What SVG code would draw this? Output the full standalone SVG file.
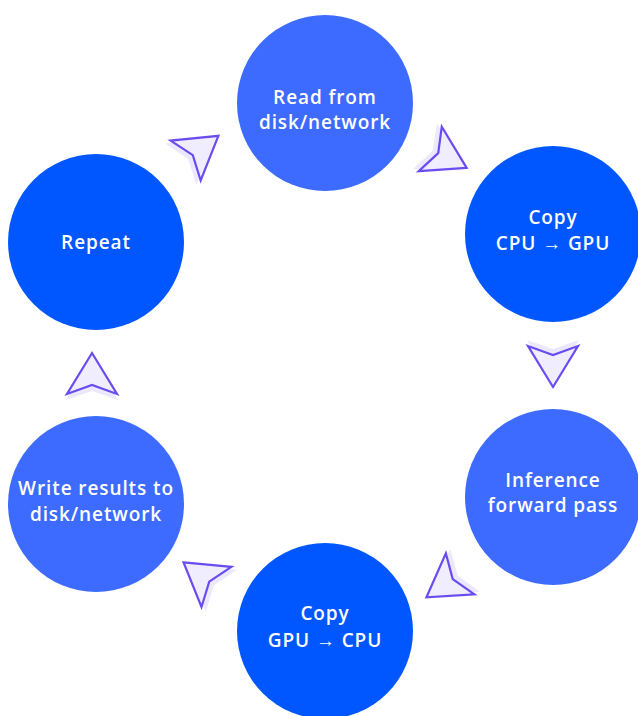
<svg xmlns="http://www.w3.org/2000/svg" width="638" height="716" viewBox="0 0 638 716">
<defs>
<style>
.light{fill:#3d6bff}
.dark{fill:#0057ff}
.lbl{font-family:"Open Sans","Liberation Sans",sans-serif;font-weight:600;font-size:19px;letter-spacing:0.9px;fill:#ffffff;text-anchor:middle}
.shadow{fill:#ebe8ff}
.head{fill:#f0edff;stroke:#6a4cf0;stroke-width:2.2;stroke-linejoin:miter}
</style>
<g id="ptr">
<path class="shadow" d="M0,-16 L26,26 L0,17 L-26,26 Z"/>
<path class="head" d="M0,-21 L25,20 L0,11 L-25,20 Z"/>
</g>
</defs>
<rect width="638" height="716" fill="#ffffff"/>
<g id="connectors">
<use href="#ptr" transform="translate(201.6,148.5) rotate(53)"/>
<use href="#ptr" transform="translate(448,158.2) rotate(117.4)"/>
<use href="#ptr" transform="translate(553,366) rotate(180)"/>
<use href="#ptr" transform="translate(443.7,585.3) rotate(235.2)"/>
<use href="#ptr" transform="translate(200.4,575) rotate(-53.3)"/>
<use href="#ptr" transform="translate(92,374)"/>
</g>
<g id="read">
<circle class="light" cx="325" cy="103" r="88"/>
<text class="lbl" x="325" y="104">Read from</text>
<text class="lbl" x="325" y="129">disk/network</text>
</g>
<g id="copy-cpu-gpu">
<circle class="dark" cx="553" cy="234" r="88"/>
<text class="lbl" x="553" y="224">Copy</text>
<text class="lbl" x="553" y="250">CPU → GPU</text>
</g>
<g id="inference">
<circle class="light" cx="553" cy="497" r="88"/>
<text class="lbl" x="553" y="487">Inference</text>
<text class="lbl" x="553" y="512">forward pass</text>
</g>
<g id="copy-gpu-cpu">
<circle class="dark" cx="325" cy="631" r="88"/>
<text class="lbl" x="325" y="620">Copy</text>
<text class="lbl" x="325" y="647">GPU → CPU</text>
</g>
<g id="write">
<circle class="light" cx="96" cy="504" r="88"/>
<text class="lbl" x="96" y="495">Write results to</text>
<text class="lbl" x="96" y="521">disk/network</text>
</g>
<g id="repeat">
<circle class="dark" cx="96" cy="242" r="88"/>
<text class="lbl" x="96" y="249">Repeat</text>
</g>
</svg>
